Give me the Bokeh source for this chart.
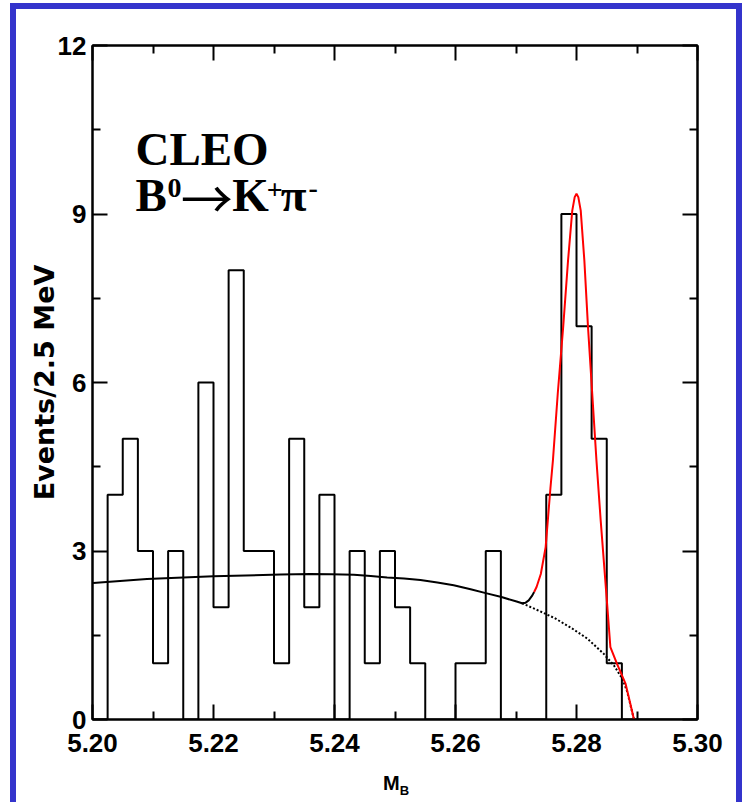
from bokeh.plotting import figure
from bokeh.layouts import column
from bokeh.models import Range1d, LinearAxis, FixedTicker, Label, PrintfTickFormatter, CustomJSTickFormatter, Div
from bokeh.embed import file_html
from bokeh.resources import INLINE

# ---- data ----
bin_edges = [round(5.2 + 0.0025 * i, 4) for i in range(41)]
counts = [0, 4, 5, 3, 1, 3, 0, 6, 2, 8,
          3, 3, 1, 5, 2, 4, 0, 3, 1, 3,
          2, 1, 0, 0, 1, 1, 3, 0, 0, 0,
          4, 9, 7, 5, 1, 0, 0, 0, 0, 0]

# total fit (black part, below the signal region)
fit_x = [5.2001, 5.2090, 5.2200, 5.2311, 5.2360, 5.2395, 5.2432, 5.2460, 5.2487, 5.2515,
         5.2542, 5.2570, 5.2597, 5.2625, 5.2650, 5.2676, 5.2701, 5.2710, 5.2716, 5.2721,
         5.2727, 5.2730]
fit_y = [2.43, 2.50, 2.55, 2.58, 2.59, 2.585, 2.575, 2.555, 2.53, 2.51,
         2.485, 2.44, 2.39, 2.32, 2.25, 2.18, 2.10, 2.07, 2.08, 2.12,
         2.21, 2.27]

# background continuation (dotted)
bg_x = [5.2710, 5.2735, 5.2763, 5.2790, 5.2818, 5.2845, 5.2862, 5.2876, 5.2884, 5.2890, 5.2895]
bg_y = [2.07, 1.95, 1.81, 1.64, 1.44, 1.17, 0.96, 0.72, 0.49, 0.22, 0.0]

# total fit in the signal region (red)
sig_x = [5.2730, 5.2734, 5.2741, 5.2749, 5.2757, 5.2761, 5.2769, 5.2778, 5.2786, 5.2793,
         5.2797, 5.2800, 5.2803, 5.2807, 5.2813, 5.2819, 5.2826, 5.2833, 5.2840, 5.2851,
         5.2856, 5.2867, 5.2881, 5.2889, 5.2895]
sig_y = [2.27, 2.36, 2.59, 3.07, 4.13, 4.61, 5.80, 6.99, 8.17, 9.06,
         9.30, 9.36, 9.30, 9.06, 8.17, 6.99, 5.80, 4.61, 3.54, 2.00,
         1.29, 0.99, 0.64, 0.28, 0.0]
tail_x = [5.2895, 5.3000]
tail_y = [0.0, 0.0]

x_major = [5.20, 5.22, 5.24, 5.26, 5.28, 5.30]
x_minor = [5.21, 5.23, 5.25, 5.27, 5.29]
y_major = [0, 3, 6, 9, 12]
y_minor = [1.5, 4.5, 7.5, 10.5]

BLUE = "#3434cc"
TICK_FONT = "Liberation Sans"

p = figure(width=720, height=761,
           x_range=Range1d(5.20, 5.30), y_range=Range1d(0, 12),
           toolbar_location=None, output_backend="svg",
           min_border_left=76, min_border_top=36, min_border_right=39, min_border_bottom=51,
           background_fill_color="white", border_fill_color="white")
p.grid.visible = False
p.outline_line_color = "black"
p.outline_line_width = 2

xt = FixedTicker(ticks=x_major, minor_ticks=x_minor)
yt = FixedTicker(ticks=y_major, minor_ticks=y_minor)

def style_axis(ax, labels=True):
    ax.axis_line_color = "black"
    ax.axis_line_width = 2
    ax.major_tick_in = 15
    ax.major_tick_out = 0
    ax.minor_tick_in = 8
    ax.minor_tick_out = 0
    ax.major_tick_line_width = 2
    ax.minor_tick_line_width = 2
    ax.major_tick_line_color = "black"
    ax.minor_tick_line_color = "black"
    if labels:
        ax.major_label_text_font = TICK_FONT
        ax.major_label_text_font_size = "26px"
        ax.major_label_text_font_style = "bold"
        ax.major_label_text_color = "black"

xa = p.xaxis[0]
xa.ticker = xt
xa.formatter = PrintfTickFormatter(format="%.2f")
style_axis(xa)
xa.major_label_standoff = 14

ya = p.yaxis[0]
ya.ticker = yt
style_axis(ya)
ya.major_label_standoff = 6
ya.axis_label = "Events/2.5 MeV"
ya.axis_label_text_font = "DejaVu Sans"
ya.axis_label_text_font_size = "27px"
ya.axis_label_text_font_style = "bold"
ya.axis_label_text_color = "black"
ya.axis_label_standoff = -5

empty = CustomJSTickFormatter(code="return ''")
top = LinearAxis(ticker=xt, formatter=empty, major_label_standoff=0)
style_axis(top, labels=False)
p.add_layout(top, "above")
right = LinearAxis(ticker=yt, formatter=empty, major_label_standoff=0)
style_axis(right, labels=False)
p.add_layout(right, "right")

# histogram
p.step(bin_edges, counts + [counts[-1]], mode="after", line_color="black", line_width=2)

# fits
p.line(fit_x, fit_y, line_color="black", line_width=2)
p.line(bg_x, bg_y, line_color="black", line_width=2, line_dash="2 2")
p.line(sig_x, sig_y, line_color="#ff0000", line_width=2)
p.line(tail_x, tail_y, line_color="#ff0000", line_width=1, line_alpha=0.4, line_dash="1 1")

# labels inside the frame
def lab(x, y, text, size, font="Liberation Serif", style="bold"):
    p.add_layout(Label(x=x, y=y, text=text, text_font=font, text_font_size=size,
                       text_font_style=style, text_color="black",
                       text_align="left", text_baseline="alphabetic"))

lab(5.2071, 10.16, "CLEO", "47px")
lab(5.2071, 9.33, "B", "47px")
lab(5.2124, 9.47, "0", "28px")
lab(5.2146, 9.31, "\u2192", "52px", font="Noto Sans CJK JP", style="normal")
lab(5.2231, 9.33, "K", "47px")
lab(5.2288, 9.42, "+", "28px")
lab(5.2311, 9.33, "\u03c0", "47px")
lab(5.2357, 9.47, "-", "28px")

# x-axis title with subscript
xtitle = Div(text=("<div style=\"padding-left:367px;padding-top:1px;font-family:'Liberation Sans';"
                   "font-weight:bold;font-size:20px;line-height:24px;color:black\">"
                   "M<sub style=\"font-size:13px\">B</sub></div>"),
             width=720, height=32, margin=0)

layout = column(p, xtitle, styles={"border-top": f"6px solid {BLUE}",
                                   "border-left": f"6px solid {BLUE}",
                                   "border-right": f"6px solid {BLUE}",
                                   "margin-left": "10px", "margin-top": "3px",
                                   "background-color": "white"})

open("out.html", "w").write(file_html(layout, INLINE))
